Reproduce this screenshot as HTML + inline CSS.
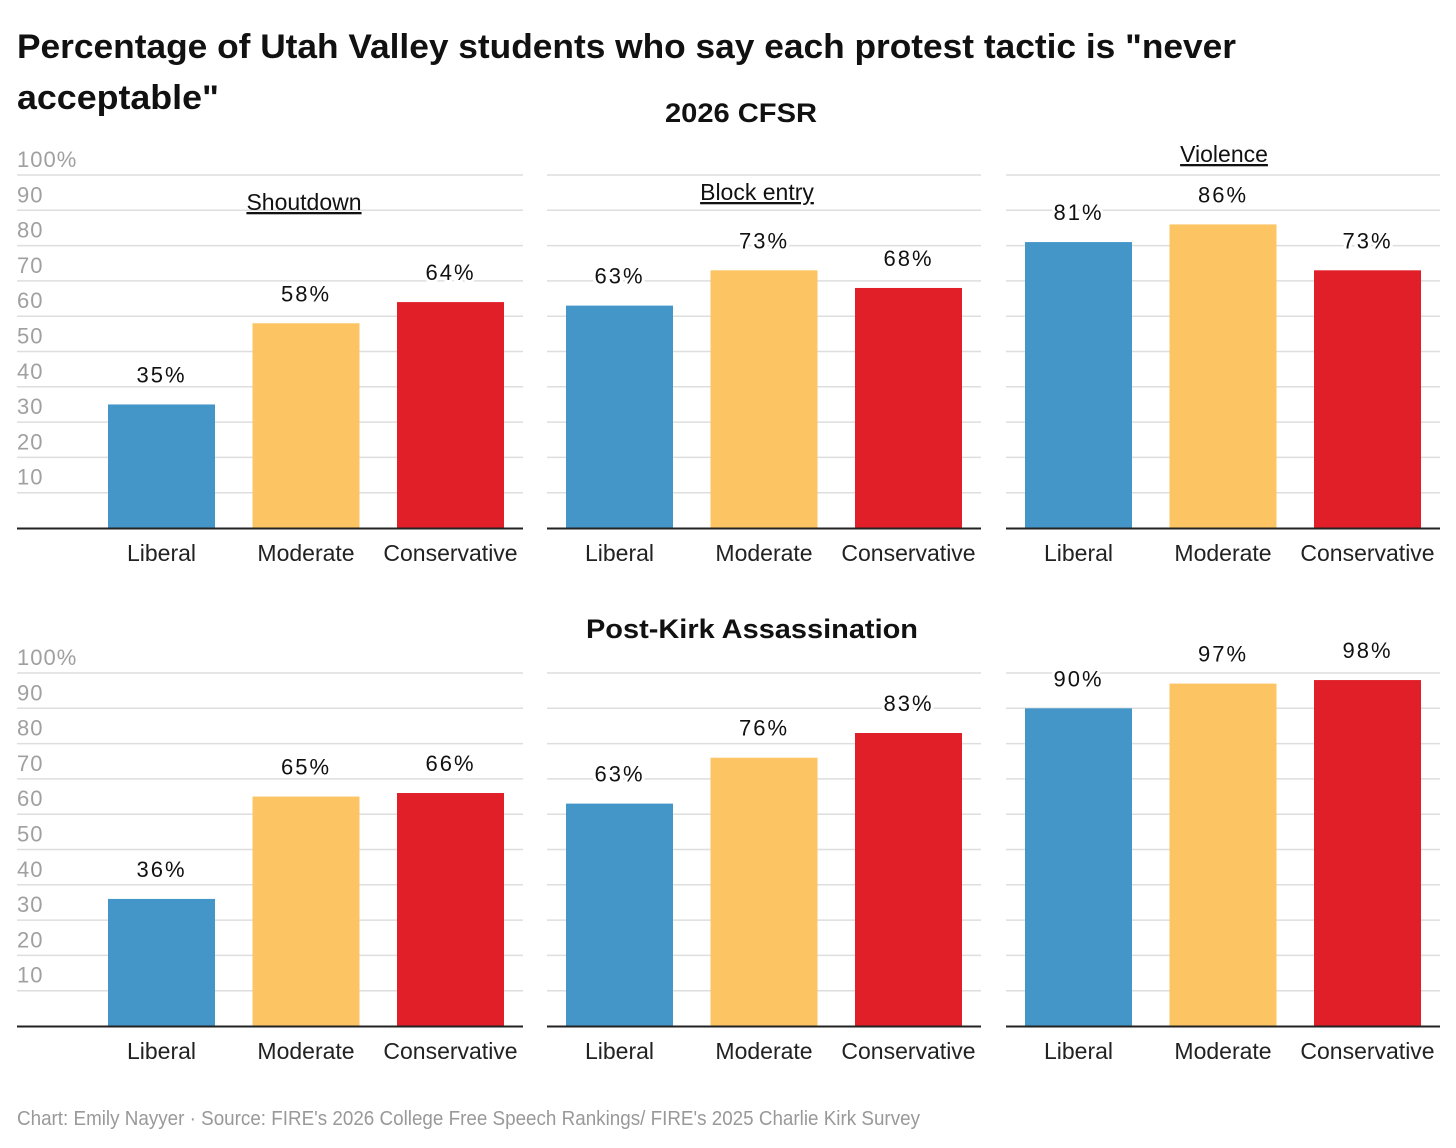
<!DOCTYPE html>
<html><head><meta charset="utf-8">
<style>
html,body{margin:0;padding:0;background:#fff;}
svg{display:block;font-family:"Liberation Sans",sans-serif;}
</style></head>
<body>
<svg id="chart" width="1456" height="1148" viewBox="0 0 1456 1148">
<text x="17" y="58" font-size="34" font-weight="bold" fill="#111" textLength="1219" lengthAdjust="spacingAndGlyphs">Percentage of Utah Valley students who say each protest tactic is "never</text>
<text x="17" y="109" font-size="34" font-weight="bold" fill="#111" textLength="202" lengthAdjust="spacingAndGlyphs">acceptable"</text>
<text x="741" y="122" font-size="27" font-weight="bold" fill="#111" text-anchor="middle" textLength="152" lengthAdjust="spacingAndGlyphs">2026 CFSR</text>
<text x="752" y="638" font-size="27" font-weight="bold" fill="#111" text-anchor="middle" textLength="332" lengthAdjust="spacingAndGlyphs">Post-Kirk Assassination</text>
<g id="marks"></g>
<text x="17" y="1125" font-size="20" fill="#999" textLength="903" lengthAdjust="spacingAndGlyphs">Chart: Emily Nayyer  · Source: FIRE's 2026 College Free Speech Rankings/ FIRE's 2025 Charlie Kirk Survey</text>
</svg>
<script>
const categories = ["Liberal", "Moderate", "Conservative"];
const tactics = ["Shoutdown", "Block entry", "Violence"];
const cfsrValues = [[35, 58, 64], [63, 73, 68], [81, 86, 73]];
const kirkValues = [[36, 65, 66], [63, 76, 83], [90, 97, 98]];
const yTicks = [10, 20, 30, 40, 50, 60, 70, 80, 90, 100];
const colors = ["#4596c8", "#fdc463", "#e01f28"];

const NS = "http://www.w3.org/2000/svg";
const g = document.getElementById("marks");
const panels = [{x0:17,x1:523,bar0:108},{x0:547,x1:981,bar0:566},{x0:1006,x1:1440,bar0:1025}];
const rows = [{base:528, values:cfsrValues, titles:true},{base:1026, values:kirkValues, titles:false}];
const PX = 3.53, BW = 107, STEP = 144.5;
const titleY = [210, 200, 162];
const titleX = [304, 757, 1224];
function el(tag, attrs, text){
  const e = document.createElementNS(NS, tag);
  for (const k in attrs) e.setAttribute(k, attrs[k]);
  if (text !== undefined) e.textContent = text;
  g.appendChild(e);
  return e;
}
rows.forEach((row, ri) => {
  const y = v => row.base - v * PX;
  panels.forEach((p, pi) => {
    yTicks.forEach(t => {
      const l = el("line", {x1:p.x0, x2:p.x1, y1:y(t), y2:y(t), stroke:"#dedede", "stroke-width":1.5});
      
      
      if (pi === 0) {
        const tl = el("text", {x:17, y:y(t)-8, "font-size":22, fill:"#a0a0a0", "letter-spacing":"1"}, t === 100 ? "100%" : String(t));
        
        
      }
    });
    if (row.titles) {
      const st = el("text", {x:titleX[pi], y:titleY[pi], "font-size":23, fill:"#111", "text-anchor":"middle", "text-decoration":"underline"}, tactics[pi]);
      
      
    }
    categories.forEach((c, ci) => {
      const v = row.values[pi][ci];
      const bx = p.bar0 + ci * STEP;
      const r = el("rect", {x:bx, y:y(v), width:BW, height:v*PX, fill:colors[ci]});
      
      
      const vl = el("text", {x:bx+BW/2, y:y(v)-22, "font-size":22, fill:"#111", "text-anchor":"middle", "letter-spacing":"2", stroke:"#fff", "stroke-width":6, "paint-order":"stroke"}, v + "%");
      
      
      const cl = el("text", {x:bx+BW/2, y:row.base+33, "font-size":23, fill:"#222", "text-anchor":"middle"}, c);
      
      
    });
    const ax = el("line", {x1:p.x0, x2:p.x1, y1:row.base+0.5, y2:row.base+0.5, stroke:"#222", "stroke-width":2});
    
    
  });
});
</script>
</body></html>
